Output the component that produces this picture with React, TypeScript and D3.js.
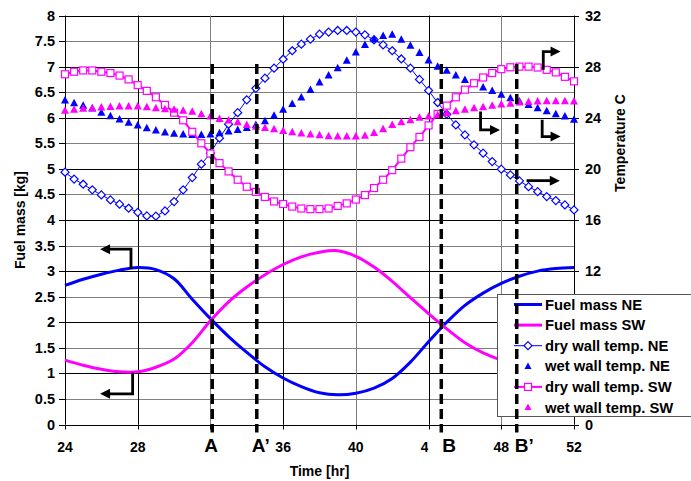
import React from "react";
import * as d3 from "d3";

// half-hour sampling of the wall temperatures
const hours = [
  24, 24.5, 25, 25.5, 26, 26.5, 27, 27.5, 28, 28.5, 29, 29.5, 30, 30.5, 31, 31.5,
  32, 32.5, 33, 33.5, 34, 34.5, 35, 35.5, 36, 36.5, 37, 37.5, 38, 38.5, 39, 39.5,
  40, 40.5, 41, 41.5, 42, 42.5, 43, 43.5, 44, 44.5, 45, 45.5, 46, 46.5, 47, 47.5,
  48, 48.5, 49, 49.5, 50, 50.5, 51, 51.5, 52,
];

const dryWallNE = [
  19.74, 19.2, 18.8, 18.36, 17.96, 17.57, 17.24, 16.92, 16.6, 16.32, 16.3, 16.71, 17.44, 18.36, 19.32, 20.37,
  21.23, 22.4, 23.5, 24.4, 25.4, 26.3, 27.1, 27.88, 28.58, 29.24, 29.76, 30.15, 30.54, 30.7, 30.83, 30.83,
  30.7, 30.49, 30.1, 29.7, 29.24, 28.6, 27.88, 27.0, 26.13, 25.19, 24.28, 23.44, 22.66, 21.88, 21.23, 20.57,
  19.98, 19.53, 19.06, 18.61, 18.22, 17.83, 17.52, 17.18, 16.79,
];

const wetWallNE = [
  25.35, 25.14, 24.93, 24.72, 24.4, 24.12, 23.86, 23.6, 23.39, 23.18, 23.0, 22.85, 22.75, 22.68, 22.65, 22.66,
  22.68, 22.78, 22.92, 23.05, 23.2, 23.44, 23.72, 24.15, 24.62, 25.07, 25.58, 26.18, 26.76, 27.3, 27.88, 28.45,
  29.1, 29.7, 30.15, 30.4, 30.5, 30.1, 29.63, 29.06, 28.48, 28.0, 27.67, 27.3, 26.96, 26.65, 26.37, 26.1,
  25.8, 25.53, 25.27, 25.0, 24.75, 24.5, 24.28, 24.1, 23.84,
];

const dryWallSW = [
  27.4, 27.6, 27.7, 27.7, 27.6, 27.5, 27.3, 27.0, 26.55, 26.1, 25.6, 25.0, 24.4, 23.8, 22.9, 22.0,
  21.2, 20.45, 19.8, 19.15, 18.6, 18.2, 17.8, 17.45, 17.25, 17.05, 16.9, 16.85, 16.85, 16.9, 17.1, 17.3,
  17.6, 17.95, 18.5, 19.15, 19.9, 20.8, 21.7, 22.5, 23.4, 24.3, 24.95, 25.6, 26.2, 26.7, 27.15, 27.5,
  27.8, 27.95, 28.0, 28.0, 27.93, 27.75, 27.55, 27.2, 26.85,
];

const wetWallSW = [
  24.55, 24.62, 24.7, 24.75, 24.8, 24.85, 24.88, 24.88, 24.88, 24.83, 24.75, 24.67, 24.62, 24.54, 24.46, 24.28,
  24.1, 23.9, 23.78, 23.64, 23.44, 23.3, 23.2, 23.1, 22.97, 22.87, 22.77, 22.69, 22.63, 22.56, 22.53, 22.53,
  22.53, 22.6, 22.8, 23.1, 23.44, 23.65, 23.8, 24.0, 24.1, 24.2, 24.36, 24.5, 24.63, 24.75, 24.83, 24.93,
  25.03, 25.1, 25.2, 25.24, 25.27, 25.3, 25.3, 25.3, 25.27,
];

// hourly fuel mass
const fuelHours = [
  24, 25, 26, 27, 28, 29, 30, 31, 32, 33, 34, 35, 36, 37, 38, 39, 40, 41, 42, 43, 44, 45, 46, 47, 48, 49, 50, 51, 52,
];
const fuelNE = [
  2.72, 2.84, 2.94, 3.02, 3.07, 3.03, 2.85, 2.45, 2.07, 1.72, 1.41, 1.13, 0.91, 0.74, 0.62, 0.58, 0.61, 0.71, 0.9,
  1.22, 1.62, 2.0, 2.33, 2.57, 2.76, 2.9, 3.0, 3.05, 3.07,
];
const fuelSW = [
  1.26, 1.16, 1.08, 1.03, 1.03, 1.12, 1.28, 1.6, 2.03, 2.4, 2.69, 2.93, 3.13, 3.28, 3.37, 3.4, 3.29, 3.08, 2.8,
  2.48, 2.17, 1.87, 1.6, 1.4, 1.26, 1.16, 1.09, 1.04, 1.03,
];

const xTicks = [24, 28, 32, 36, 40, 44, 48, 52];
const leftTicks = [0, 0.5, 1, 1.5, 2, 2.5, 3, 3.5, 4, 4.5, 5, 5.5, 6, 6.5, 7, 7.5, 8];
const rightTicks = [0, 4, 8, 12, 16, 20, 24, 28, 32];
// labels that sit under the legend / the "A" box in the original
const hiddenRight = [4, 8];
const hiddenX = [32];

const markTimes = [32.1, 34.55, 44.7, 48.85];
const markLabels = ["A", "A\u2019", "B", "B\u2019"];
const markDx = [-8, -5, 1, -2];

const legendLabels = [
  "Fuel mass NE",
  "Fuel mass SW",
  "dry wall temp. NE",
  "wet wall temp. NE",
  "dry wall temp. SW",
  "wet wall temp. SW",
];

const BLUE = "#0000ff";
const PINK = "#ff00ff";
const FONT = "'Liberation Sans', Arial, sans-serif";

const W = 691;
const H = 481;

const x = d3.scaleLinear().domain([24, 52]).range([65, 574]);
const yL = d3.scaleLinear().domain([0, 8]).range([424.5, 15.5]);
const yR = d3.scaleLinear().domain([0, 32]).range([424.5, 15.5]);

const crisp = (v: number) => Math.round(v) + 0.5;

const tri = (cx: number, cy: number, w = 8, h = 7.5) =>
  `M${cx},${cy - h * 0.6}L${cx + w / 2},${cy + h * 0.4}L${cx - w / 2},${cy + h * 0.4}Z`;
const diamond = (cx: number, cy: number, r = 4) =>
  `M${cx},${cy - r}L${cx + r},${cy}L${cx},${cy + r}L${cx - r},${cy}Z`;

// L-shaped pointer arrows, in (time, value) with the axis they use
type Arrow = { pts: [number, number][]; axis: "L" | "R" };
const arrows: Arrow[] = [
  { pts: [[27.63, 3.04], [27.63, 3.43], [25.93, 3.43]], axis: "L" },
  { pts: [[27.72, 1.01], [27.72, 0.6], [25.93, 0.6]], axis: "L" },
  { pts: [[46.86, 24.49], [46.86, 23.05], [47.93, 23.05]], axis: "R" },
  { pts: [[50.25, 23.84], [50.25, 22.53], [51.26, 22.53]], axis: "R" },
  { pts: [[50.31, 27.75], [50.31, 29.18], [51.26, 29.18]], axis: "R" },
  { pts: [[49.39, 19.08], [51.22, 19.08]], axis: "R" },
];

function ArrowMark({ a }: { a: Arrow }) {
  const ys = a.axis === "L" ? yL : yR;
  const p = a.pts.map(([t, v]) => [x(t), ys(v)] as [number, number]);
  const [tx, ty] = p[p.length - 1];
  const [px] = p[p.length - 2];
  const dir = Math.sign(tx - px) || 1;
  const head = 10;
  const line = p.slice(0, -1).concat([[tx - dir * head + dir, ty]]);
  return (
    <g>
      <path d={d3.line()(line) || ""} fill="none" stroke="#000" strokeWidth={2.8} />
      <path d={`M${tx},${ty}L${tx - dir * head},${ty - 5}L${tx - dir * head},${ty + 5}Z`} fill="#000" />
    </g>
  );
}

export default function App() {
  const fuelLine = d3
    .line<number>()
    .x((_, i) => x(fuelHours[i]))
    .y((d) => yL(d))
    .curve(d3.curveCatmullRom.alpha(0.5));
  const tempLine = d3
    .line<number>()
    .x((_, i) => x(hours[i]))
    .y((d) => yR(d));

  const legX = 497;
  const legY = 294;
  const rowY = (i: number) => legY + 10.5 + i * 20.6;

  return (
    <svg
      width={W}
      height={H}
      style={{ position: "absolute", left: 0, top: 0, background: "#fff" }}
      fontFamily={FONT}
      fontWeight="bold"
    >
      <rect width={W} height={H} fill="#fff" />

      {/* grid */}
      {leftTicks.map((v) => (
        <line
          key={"h" + v}
          x1={x(24)}
          x2={x(52)}
          y1={crisp(yL(v))}
          y2={crisp(yL(v))}
          stroke={Number.isInteger(v) ? "#000" : "#808080"}
          strokeWidth={1}
        />
      ))}
      {xTicks.slice(1, -1).map((t, i) => (
        <line
          key={"v" + t}
          x1={crisp(x(t))}
          x2={crisp(x(t))}
          y1={yL(8)}
          y2={yL(0)}
          stroke={i % 2 === 0 ? "#000" : "#808080"}
          strokeWidth={1}
        />
      ))}

      {/* axes */}
      <line x1={crisp(x(24))} x2={crisp(x(24))} y1={yL(8)} y2={yL(0)} stroke="#000" />
      <line x1={crisp(x(52))} x2={crisp(x(52))} y1={yL(8)} y2={yL(0)} stroke="#000" />
      <line x1={x(24)} x2={x(52) + 1} y1={crisp(yL(0))} y2={crisp(yL(0))} stroke="#000" />
      {leftTicks.map((v) => (
        <line key={"lt" + v} x1={x(24) - 6} x2={x(24)} y1={crisp(yL(v))} y2={crisp(yL(v))} stroke="#000" />
      ))}
      {rightTicks.map((v) => (
        <line key={"rt" + v} x1={x(52)} x2={x(52) + 5} y1={crisp(yR(v))} y2={crisp(yR(v))} stroke="#000" />
      ))}
      {xTicks.map((t) => (
        <line key={"xt" + t} x1={crisp(x(t))} x2={crisp(x(t))} y1={yL(0)} y2={yL(0) + 5} stroke="#000" />
      ))}

      {/* tick labels */}
      {leftTicks.map((v) => (
        <text key={"ll" + v} x={55} y={yL(v) + 5} fontSize={14.5} textAnchor="end">
          {v}
        </text>
      ))}
      {rightTicks
        .filter((v) => !hiddenRight.includes(v))
        .map((v) => (
          <text key={"rl" + v} x={585} y={yR(v) + 5} fontSize={14.5}>
            {v}
          </text>
        ))}
      {xTicks
        .filter((t) => !hiddenX.includes(t))
        .map((t) => (
          <text key={"xl" + t} x={x(t)} y={452} fontSize={14} textAnchor="middle">
            {t}
          </text>
        ))}

      {/* axis titles */}
      <text transform="translate(25,220) rotate(-90)" fontSize={14} textAnchor="middle">
        Fuel mass [kg]
      </text>
      <text transform="translate(625,143) rotate(-90)" fontSize={14} textAnchor="middle">
        Temperature C
      </text>
      <text x={319.5} y={476} fontSize={14} textAnchor="middle">
        Time [hr]
      </text>

      {/* temperature series */}
      <path d={tempLine(dryWallNE) || ""} fill="none" stroke={BLUE} strokeWidth={1} />
      {dryWallNE.map((d, i) => (
        <path key={"dn" + i} d={diamond(x(hours[i]), yR(d))} fill="#fff" stroke={BLUE} strokeWidth={1.2} />
      ))}
      {wetWallNE.map((d, i) => (
        <path key={"wn" + i} d={tri(x(hours[i]), yR(d))} fill={BLUE} />
      ))}
      <path d={tempLine(dryWallSW) || ""} fill="none" stroke={PINK} strokeWidth={2} />
      {dryWallSW.map((d, i) => (
        <rect
          key={"ds" + i}
          x={x(hours[i]) - 3.5}
          y={yR(d) - 3.5}
          width={7}
          height={7}
          fill="#fff"
          stroke={PINK}
          strokeWidth={1.2}
        />
      ))}
      {wetWallSW.map((d, i) => (
        <path key={"ws" + i} d={tri(x(hours[i]), yR(d))} fill={PINK} />
      ))}

      {/* fuel mass */}
      <path d={fuelLine(fuelNE) || ""} fill="none" stroke={BLUE} strokeWidth={3} />
      <path d={fuelLine(fuelSW) || ""} fill="none" stroke={PINK} strokeWidth={3} />

      {/* legend */}
      <rect x={legX + 0.5} y={legY + 0.5} width={220} height={122} fill="#fff" stroke="#555" />
      {legendLabels.map((lab, i) => {
        const cy = rowY(i);
        const cx = 528;
        let sym: React.ReactNode = null;
        if (i === 0 || i === 1) {
          sym = <line x1={514} x2={542} y1={cy} y2={cy} stroke={i === 0 ? BLUE : PINK} strokeWidth={3} />;
        } else if (i === 2) {
          sym = (
            <g>
              <line x1={514} x2={542} y1={cy} y2={cy} stroke={BLUE} strokeWidth={1} />
              <path d={diamond(cx, cy)} fill="#fff" stroke={BLUE} strokeWidth={1.2} />
            </g>
          );
        } else if (i === 4) {
          sym = (
            <g>
              <line x1={514} x2={542} y1={cy} y2={cy} stroke={PINK} strokeWidth={2} />
              <rect x={cx - 3.5} y={cy - 3.5} width={7} height={7} fill="#fff" stroke={PINK} strokeWidth={1.2} />
            </g>
          );
        } else {
          sym = <path d={tri(cx, cy, 7, 6.5)} fill={i === 3 ? BLUE : PINK} />;
        }
        return (
          <g key={"lg" + i}>
            {sym}
            <text x={545} y={cy + 5} fontSize={14.8}>
              {lab}
            </text>
          </g>
        );
      })}

      {/* marker lines A, A', B, B' */}
      {markTimes.map((t) => (
        <line
          key={"m" + t}
          x1={x(t)}
          x2={x(t)}
          y1={yR(28.2)}
          y2={yL(0) + 8}
          stroke="#000"
          strokeWidth={3.5}
          strokeDasharray="10,5"
        />
      ))}

      {arrows.map((a, i) => (
        <ArrowMark key={"ar" + i} a={a} />
      ))}

      {markTimes.map((t, i) => (
        <g key={"ml" + i}>
          <rect
            x={x(t) + markDx[i] - (i === 2 ? 14 : 4)}
            y={434}
            width={i === 2 ? 30 : 24}
            height={20}
            fill="#fff"
          />
          <text x={x(t) + markDx[i]} y={452} fontSize={19}>
            {markLabels[i]}
          </text>
        </g>
      ))}
    </svg>
  );
}
